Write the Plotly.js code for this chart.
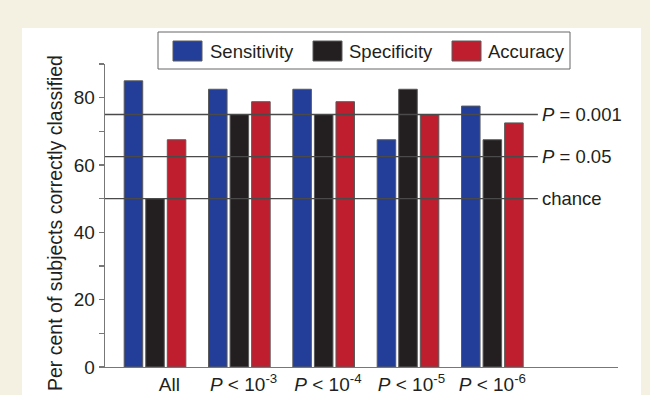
<!DOCTYPE html>
<html>
<head>
<meta charset="utf-8">
<script src="https://cdn.plot.ly/plotly-3.0.1.min.js"></script>
<style>html,body{margin:0;padding:0;background:#f4f0e2;}#chart{width:650px;height:395px;}</style>
</head>
<body>
<div id="chart"></div>
<script>
// ---- data ----
const categories = ["All", "<i>P</i> < 10<sup>-3</sup>", "<i>P</i> < 10<sup>-4</sup>", "<i>P</i> < 10<sup>-5</sup>", "<i>P</i> < 10<sup>-6</sup>"];
const sensitivity = [85, 82.5, 82.5, 67.5, 77.5];
const specificity = [50, 75, 75, 82.5, 67.5];
const accuracy = [67.5, 78.8, 78.8, 75, 72.5];
const refValues = [75, 62.5, 50];
const refLabels = ["<i>P</i> = 0.001", "<i>P</i> = 0.05", "chance"];
const seriesNames = ["Sensitivity", "Specificity", "Accuracy"];
const yTitle = "Per cent of subjects correctly classified";

// ---- styling ----
const colors = ["#233e98", "#231f20", "#bf1e2e"];
const txt = "#231f20";
const fontFam = "Liberation Sans, Arial, sans-serif";

// plot-area pixel geometry helpers (for paper-referenced decorations)
const L = 105, R = 618, T = 64, B = 367;
const X = px => (px - L) / (R - L);
const Y = py => (B - py) / (B - T);

const xs = categories.map((c, i) => i);
const traces = [sensitivity, specificity, accuracy].map((vals, k) => ({
  type: "bar", x: xs, y: vals, name: seriesNames[k],
  marker: {color: colors[k], line: {color: "#5a5a5a", width: 1}},
  showlegend: false, hoverinfo: "skip"
}));

const labelOffset = [0.17, 0.05, 0.05, 0.04, 0.0];
const shapes = [];
const annotations = [];

// white panel
shapes.push({type: "rect", xref: "paper", yref: "paper", x0: X(22), x1: X(641), y0: Y(395), y1: Y(28),
  fillcolor: "#ffffff", line: {width: 0}, layer: "below"});

// reference lines
const lineEnd = 4.54;
refValues.forEach((v, i) => {
  shapes.push({type: "line", xref: "x", yref: "y", x0: -0.593, x1: lineEnd, y0: v, y1: v,
    line: {color: "#4a4a4a", width: 1.3}, layer: "above"});
  annotations.push({xref: "x", yref: "y", x: lineEnd + 0.02, y: v, text: refLabels[i], showarrow: false,
    xanchor: "left", yanchor: "middle", font: {size: 18.5, color: txt, family: fontFam}});
});

// custom legend
shapes.push({type: "rect", xref: "paper", yref: "paper", x0: X(158), x1: X(570), y0: Y(69), y1: Y(32),
  fillcolor: "#ffffff", line: {color: "#666", width: 1}, layer: "above"});
const swX = [173, 313, 452];
const txX = [208, 347, 486];
seriesNames.forEach((n, k) => {
  shapes.push({type: "rect", xref: "paper", yref: "paper", x0: X(swX[k]), x1: X(swX[k] + 29), y0: Y(61), y1: Y(41),
    fillcolor: colors[k], line: {color: "#5a5a5a", width: 1}, layer: "above"});
  annotations.push({xref: "paper", yref: "paper", x: X(txX[k]), y: Y(51), text: n, showarrow: false,
    xanchor: "left", yanchor: "middle", font: {size: 18.5, color: txt, family: fontFam}});
});

// y-axis title (as rotated annotation for exact placement)
annotations.push({xref: "paper", yref: "paper", x: X(55), y: Y(223), text: yTitle, textangle: -90,
  showarrow: false, xanchor: "center", yanchor: "middle", font: {size: 19.5, color: txt, family: fontFam}});

const layout = {
  width: 650, height: 395,
  margin: {l: L, r: 650 - R, t: T, b: 395 - B, pad: 0},
  paper_bgcolor: "#f4f0e2", plot_bgcolor: "rgba(0,0,0,0)",
  font: {family: fontFam, color: txt, size: 19},
  barmode: "group", bargap: 0.233, bargroupgap: 0.14,
  showlegend: false,
  xaxis: {
    range: [-0.593, 5.49], showgrid: false, zeroline: false,
    showline: true, linecolor: "#777", linewidth: 1.3,
    tickmode: "array", tickvals: xs.map((v, i) => v + labelOffset[i]), ticktext: categories,
    ticks: "", tickfont: {size: 19, color: txt}, fixedrange: true
  },
  yaxis: {
    range: [0, 90], showgrid: false, zeroline: false,
    showline: true, linecolor: "#777", linewidth: 1.3,
    tickmode: "array", tickvals: [0, 20, 40, 60, 80], ticks: "outside", ticklen: 5, tickcolor: "#777", tickwidth: 1.3,
    minor: {tickmode: "array", tickvals: [10, 30, 50, 70, 90], ticks: "outside", ticklen: 5, tickcolor: "#777", tickwidth: 1.3},
    tickfont: {size: 19, color: txt}
  },
  shapes: shapes, annotations: annotations
};

Plotly.newPlot("chart", traces, layout, {staticPlot: true, displayModeBar: false});
</script>
</body>
</html>
